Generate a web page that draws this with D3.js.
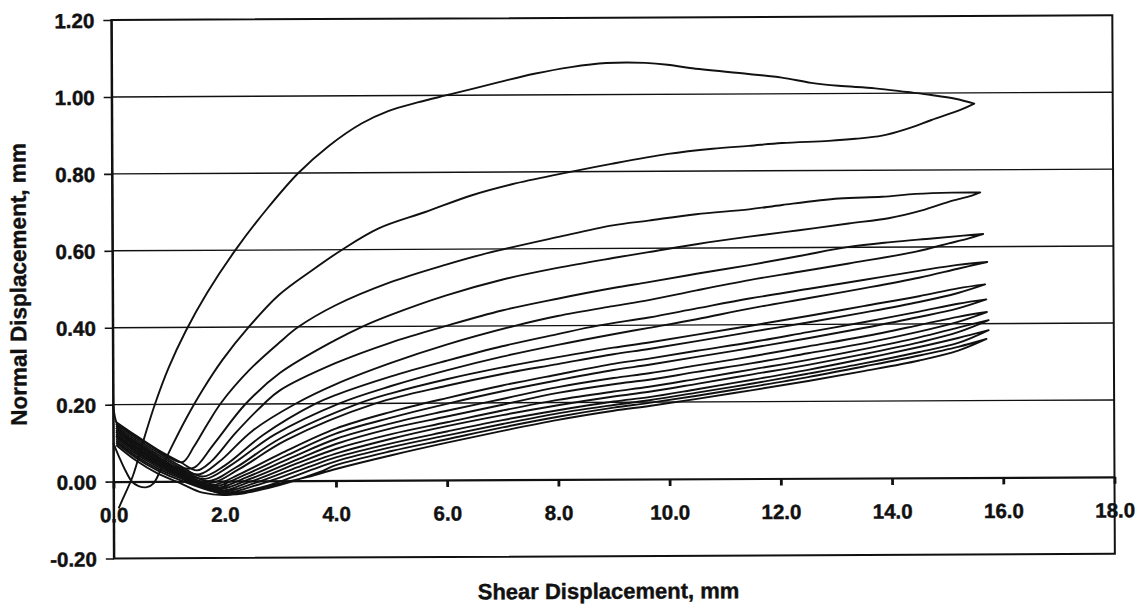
<!DOCTYPE html>
<html>
<head>
<meta charset="utf-8">
<script src="https://cdn.jsdelivr.net/npm/d3@7"></script>
<style>
  html, body { margin: 0; padding: 0; background: #fff; }
  svg { display: block; }
  text { font-family: "Liberation Sans", Arial, sans-serif; font-weight: bold; fill: #111; }
</style>
</head>
<body>
<svg id="chart" width="1146" height="609"></svg>
<script>
// Axis ticks and labels
const xTicks = [0, 2, 4, 6, 8, 10, 12, 14, 16, 18];
const xTickLabels = ["0.0", "2.0", "4.0", "6.0", "8.0", "10.0", "12.0", "14.0", "16.0", "18.0"];
const yTicks = [-0.2, 0, 0.2, 0.4, 0.6, 0.8, 1.0, 1.2];
const yTickLabels = ["-0.20", "0.00", "0.20", "0.40", "0.60", "0.80", "1.00", "1.20"];

// Shear cycles: [shear displacement mm, normal displacement mm]
// "out" = forward pass to the end of travel, "back" = return pass (listed left to right)
const cycle1Out = [[0.09,-0.07],[0.15,-0.05],[0.35,0.015],[0.55,0.11],[0.75,0.2],[1.0,0.295],[1.31,0.39],[1.7,0.49],[2.24,0.606],[2.8,0.71],[3.35,0.8],[3.9,0.87],[4.49,0.928],[4.97,0.96],[5.5,0.982],[6.1,1.003],[6.95,1.033],[7.6,1.055],[8.26,1.072],[8.9,1.082],[9.6,1.082],[10.0,1.077],[10.4,1.068],[11.45,1.052],[12.05,1.042],[12.58,1.028],[13.07,1.02],[13.73,1.013],[14.3,1.003],[14.74,0.995],[15.17,0.985],[15.51,0.972]];
const cycle1Back = [[0.0,0.1],[0.1,0.065],[0.21,0.03],[0.33,0.0],[0.45,-0.012],[0.6,-0.015],[0.72,-0.005],[0.85,0.03],[1.05,0.09],[1.3,0.16],[1.61,0.237],[1.97,0.315],[2.45,0.401],[2.99,0.483],[3.59,0.547],[4.13,0.6],[4.79,0.655],[5.63,0.697],[6.47,0.74],[7.19,0.768],[8.08,0.795],[8.98,0.82],[10.0,0.845],[10.8,0.858],[11.45,0.865],[12.05,0.872],[12.89,0.877],[13.37,0.882],[13.85,0.89],[14.27,0.906],[14.74,0.93],[15.28,0.957],[15.51,0.972]];

const cycle2Out = [[0.05,0.15],[0.4,0.118],[0.8,0.08],[1.05,0.058],[1.25,0.05],[1.45,0.09],[1.7,0.15],[1.95,0.205],[2.45,0.288],[3.0,0.36],[3.34,0.4],[4.0,0.455],[5.0,0.515],[6.0,0.56],[6.76,0.59],[8.0,0.63],[9.0,0.66],[9.64,0.672],[10.5,0.688],[11.45,0.7],[12.05,0.711],[13.07,0.727],[13.84,0.731],[14.45,0.738],[15.1,0.741],[15.61,0.741]];
const cycle2Back = [[0.05,0.12],[0.4,0.085],[0.8,0.05],[1.2,0.035],[1.45,0.035],[1.8,0.095],[2.38,0.2],[3.0,0.28],[4.0,0.365],[4.49,0.4],[5.0,0.43],[6.0,0.48],[7.0,0.52],[8.0,0.55],[9.0,0.575],[9.64,0.59],[10.5,0.61],[11.45,0.629],[12.35,0.645],[13.24,0.662],[13.96,0.675],[14.56,0.695],[15.04,0.717],[15.46,0.733],[15.61,0.741]];

const cycle3Out = [[0.05,0.155],[0.4,0.12],[0.8,0.082],[1.2,0.05],[1.5,0.028],[1.75,0.05],[2.2,0.125],[2.71,0.2],[3.0,0.235],[4.0,0.305],[5.0,0.358],[5.98,0.4],[7.0,0.44],[8.0,0.47],[9.0,0.497],[9.64,0.512],[10.5,0.533],[11.45,0.555],[12.35,0.578],[13.24,0.601],[14.0,0.613],[14.74,0.622],[15.3,0.629],[15.66,0.633]];
const cycle3Back = [[0.05,0.13],[0.4,0.09],[0.8,0.055],[1.2,0.03],[1.55,0.018],[1.9,0.05],[2.5,0.13],[3.28,0.2],[4.0,0.25],[5.0,0.305],[6.0,0.352],[7.23,0.4],[8.0,0.425],[9.0,0.45],[9.64,0.465],[10.5,0.49],[11.45,0.516],[12.35,0.537],[13.24,0.558],[14.45,0.588],[15.04,0.609],[15.4,0.622],[15.66,0.633]];

const cycle4Out = [[0.05,0.15],[0.4,0.113],[0.8,0.075],[1.2,0.04],[1.6,0.012],[2.0,0.04],[2.7,0.12],[3.64,0.2],[4.0,0.222],[5.0,0.27],[6.0,0.31],[7.0,0.347],[8.0,0.378],[8.75,0.4],[9.64,0.42],[10.5,0.443],[11.45,0.468],[12.5,0.492],[13.5,0.515],[14.5,0.538],[15.2,0.553],[15.73,0.56]];
const cycle4Back = [[0.05,0.125],[0.4,0.085],[0.8,0.05],[1.2,0.025],[1.65,0.006],[2.1,0.04],[2.9,0.12],[4.06,0.2],[5.0,0.245],[6.0,0.285],[7.0,0.32],[8.0,0.35],[9.0,0.377],[9.64,0.393],[10.5,0.415],[11.45,0.442],[12.5,0.468],[13.5,0.493],[14.5,0.52],[15.2,0.543],[15.73,0.56]];

const cycle5Out = [[0.05,0.145],[0.4,0.108],[0.8,0.07],[1.2,0.035],[1.7,0.0],[2.2,0.035],[3.0,0.11],[4.42,0.2],[5.0,0.226],[6.0,0.262],[7.0,0.292],[8.0,0.318],[9.0,0.342],[9.64,0.355],[10.5,0.375],[11.5,0.398],[12.5,0.422],[13.5,0.447],[14.5,0.472],[15.2,0.492],[15.69,0.502]];
const cycle5Back = [[0.05,0.12],[0.4,0.08],[0.8,0.045],[1.2,0.02],[1.75,-0.005],[2.25,0.03],[3.1,0.105],[4.72,0.2],[6.0,0.245],[7.0,0.275],[8.0,0.3],[9.0,0.325],[9.64,0.338],[10.5,0.358],[11.5,0.382],[12.5,0.405],[13.5,0.43],[14.5,0.457],[15.2,0.48],[15.69,0.502]];

const cycle6Out = [[0.05,0.14],[0.4,0.103],[0.8,0.065],[1.2,0.03],[1.75,-0.01],[2.3,0.02],[3.0,0.07],[4.0,0.135],[5.0,0.178],[6.0,0.213],[7.0,0.245],[8.0,0.273],[9.0,0.3],[9.64,0.313],[10.5,0.333],[11.5,0.355],[12.5,0.38],[13.5,0.405],[14.5,0.432],[15.2,0.452],[15.71,0.463]];
const cycle6Back = [[0.05,0.115],[0.4,0.077],[0.8,0.042],[1.2,0.015],[1.8,-0.014],[2.35,0.015],[3.1,0.065],[4.0,0.122],[5.0,0.163],[6.0,0.198],[7.0,0.23],[8.0,0.258],[9.0,0.284],[9.64,0.297],[10.5,0.317],[11.5,0.34],[12.5,0.364],[13.5,0.39],[14.5,0.418],[15.2,0.44],[15.71,0.463]];

const cycle7Out = [[0.05,0.14],[0.4,0.1],[0.8,0.062],[1.2,0.027],[1.8,-0.018],[2.4,0.01],[3.2,0.06],[4.0,0.108],[5.0,0.148],[6.0,0.18],[7.0,0.21],[8.0,0.24],[9.0,0.263],[9.64,0.275],[10.5,0.295],[11.5,0.318],[12.5,0.343],[13.5,0.368],[14.5,0.397],[15.2,0.418],[15.72,0.43]];
const cycle7Back = [[0.05,0.11],[0.4,0.072],[0.8,0.038],[1.2,0.012],[1.85,-0.022],[2.45,0.005],[3.3,0.055],[4.0,0.095],[5.0,0.135],[6.0,0.165],[7.0,0.195],[8.0,0.225],[9.0,0.247],[9.64,0.258],[10.5,0.278],[11.5,0.3],[12.5,0.325],[13.5,0.35],[14.5,0.38],[15.2,0.405],[15.72,0.43]];

const cycle8Out = [[0.05,0.135],[0.4,0.097],[0.8,0.058],[1.2,0.023],[1.85,-0.025],[2.5,0.0],[3.3,0.045],[4.0,0.082],[5.0,0.12],[6.0,0.15],[7.0,0.18],[8.0,0.207],[9.0,0.228],[9.64,0.24],[10.5,0.26],[11.5,0.284],[12.5,0.308],[13.5,0.335],[14.5,0.365],[15.2,0.39],[15.75,0.409]];
const cycle8Back = [[0.05,0.105],[0.4,0.067],[0.8,0.033],[1.2,0.008],[1.9,-0.028],[2.55,-0.005],[3.4,0.04],[4.0,0.07],[5.0,0.108],[6.0,0.14],[7.0,0.168],[8.0,0.193],[9.0,0.215],[9.64,0.227],[10.5,0.247],[11.5,0.271],[12.5,0.295],[13.5,0.322],[14.5,0.352],[15.2,0.378],[15.75,0.409]];

const cycle9Out = [[0.05,0.13],[0.4,0.092],[0.8,0.053],[1.2,0.018],[1.9,-0.03],[2.6,-0.01],[3.5,0.035],[4.0,0.06],[5.0,0.096],[6.0,0.126],[7.0,0.155],[8.0,0.18],[9.0,0.202],[9.64,0.213],[10.5,0.233],[11.5,0.257],[12.5,0.282],[13.5,0.31],[14.5,0.34],[15.2,0.363],[15.75,0.383]];
const cycle9Back = [[0.05,0.1],[0.4,0.062],[0.8,0.028],[1.2,0.003],[2.0,-0.032],[2.7,-0.015],[3.6,0.03],[4.0,0.05],[5.0,0.086],[6.0,0.116],[7.0,0.145],[8.0,0.172],[9.0,0.193],[9.64,0.205],[10.5,0.224],[11.5,0.247],[12.5,0.272],[13.5,0.298],[14.5,0.327],[15.2,0.35],[15.75,0.383]];

const cycle10Out = [[0.0,0.2],[0.08,0.145],[0.4,0.088],[0.8,0.048],[1.2,0.013],[2.0,-0.034],[2.8,-0.018],[3.7,0.022],[4.0,0.04],[5.0,0.076],[6.0,0.106],[7.0,0.136],[8.0,0.163],[9.0,0.186],[9.64,0.198],[10.5,0.216],[11.5,0.239],[12.5,0.263],[13.5,0.29],[14.5,0.318],[15.2,0.34],[15.71,0.36]];
const cycle10Back = [[0.05,0.095],[0.4,0.055],[0.8,0.02],[1.2,-0.005],[1.6,-0.03],[2.1,-0.036],[2.9,-0.01],[3.5,0.01],[4.0,0.03],[5.0,0.065],[6.0,0.097],[7.0,0.127],[8.0,0.155],[9.0,0.178],[9.64,0.19],[10.5,0.208],[11.5,0.23],[12.5,0.253],[13.5,0.278],[14.5,0.305],[15.2,0.33],[15.71,0.36]];

const cycles = [
  [cycle1Out, cycle1Back], [cycle2Out, cycle2Back], [cycle3Out, cycle3Back],
  [cycle4Out, cycle4Back], [cycle5Out, cycle5Back], [cycle6Out, cycle6Back],
  [cycle7Out, cycle7Back], [cycle8Out, cycle8Back], [cycle9Out, cycle9Back],
  [cycle10Out, cycle10Back]
];

const svg = d3.select("#chart");
svg.append("rect").attr("width", 1146).attr("height", 609).attr("fill", "#fff");

// whole figure sits very slightly tilted, as on the printed sheet
const g = svg.append("g").attr("transform", "rotate(-0.27,113.5,482)");

const x = d3.scaleLinear().domain([0, 18]).range([113.5, 1114.5]);
const y = d3.scaleLinear().domain([-0.2, 1.2]).range([558.5, 20]);

const ink = "#111";

// horizontal gridlines
g.append("g").selectAll("line")
  .data(yTicks.filter(v => v > 0.01 && v < 1.19))
  .join("line")
  .attr("x1", x(0)).attr("x2", x(18))
  .attr("y1", d => y(d)).attr("y2", d => y(d))
  .attr("stroke", ink).attr("stroke-width", 1.4);

// plot frame
g.append("rect")
  .attr("x", x(0)).attr("y", y(1.2))
  .attr("width", x(18) - x(0)).attr("height", y(-0.2) - y(1.2))
  .attr("fill", "none").attr("stroke", ink).attr("stroke-width", 2);

// y axis
const yAxis = d3.axisLeft(y)
  .tickValues(yTicks)
  .tickFormat((d, i) => yTickLabels[i])
  .tickSize(8).tickSizeOuter(0).tickPadding(9);
const gy = g.append("g").attr("transform", `translate(${x(0)},0)`).call(yAxis);
gy.select(".domain").attr("stroke", ink).attr("stroke-width", 2);
gy.selectAll(".tick line").attr("stroke", ink).attr("stroke-width", 1.6);
gy.selectAll(".tick text")
  .attr("font-size", 20.5).attr("font-family", "Liberation Sans, Arial, sans-serif")
  .attr("font-weight", "bold").attr("fill", ink)
  .attr("stroke", ink).attr("stroke-width", 0.45)
  .attr("dy", "0.36em");

// x axis drawn along zero normal displacement
const xAxis = d3.axisBottom(x)
  .tickValues(xTicks)
  .tickFormat((d, i) => xTickLabels[i])
  .tickSize(7).tickSizeOuter(0).tickPadding(19);
const gx = g.append("g").attr("transform", `translate(0,${y(0)})`).call(xAxis);
gx.select(".domain").attr("stroke", ink).attr("stroke-width", 2.2);
gx.selectAll(".tick line").attr("stroke", ink).attr("stroke-width", 2.8);
gx.selectAll(".tick text")
  .attr("font-size", 20.5).attr("font-family", "Liberation Sans, Arial, sans-serif")
  .attr("font-weight", "bold").attr("fill", ink)
  .attr("stroke", ink).attr("stroke-width", 0.45);

// shear cycles
const line = d3.line()
  .x(d => x(d[0])).y(d => y(d[1]))
  .curve(d3.curveCatmullRom.alpha(0.5));

g.append("g").selectAll("path")
  .data(cycles)
  .join("path")
  .attr("d", d => line(d[0].concat(d[1].slice().reverse())))
  .attr("fill", "none")
  .attr("stroke", ink)
  .attr("stroke-width", 1.9)
  .attr("stroke-linejoin", "round");

// axis titles
g.append("text")
  .attr("x", (x(0) + x(18)) / 2 - 6).attr("y", 601)
  .attr("text-anchor", "middle").attr("font-size", 22)
  .attr("stroke", ink).attr("stroke-width", 0.4)
  .text("Shear Displacement, mm");

g.append("text")
  .attr("transform", "translate(27,284) rotate(-90)")
  .attr("text-anchor", "middle").attr("font-size", 22.5)
  .attr("stroke", ink).attr("stroke-width", 0.4)
  .text("Normal Displacement, mm");
</script>
</body>
</html>
